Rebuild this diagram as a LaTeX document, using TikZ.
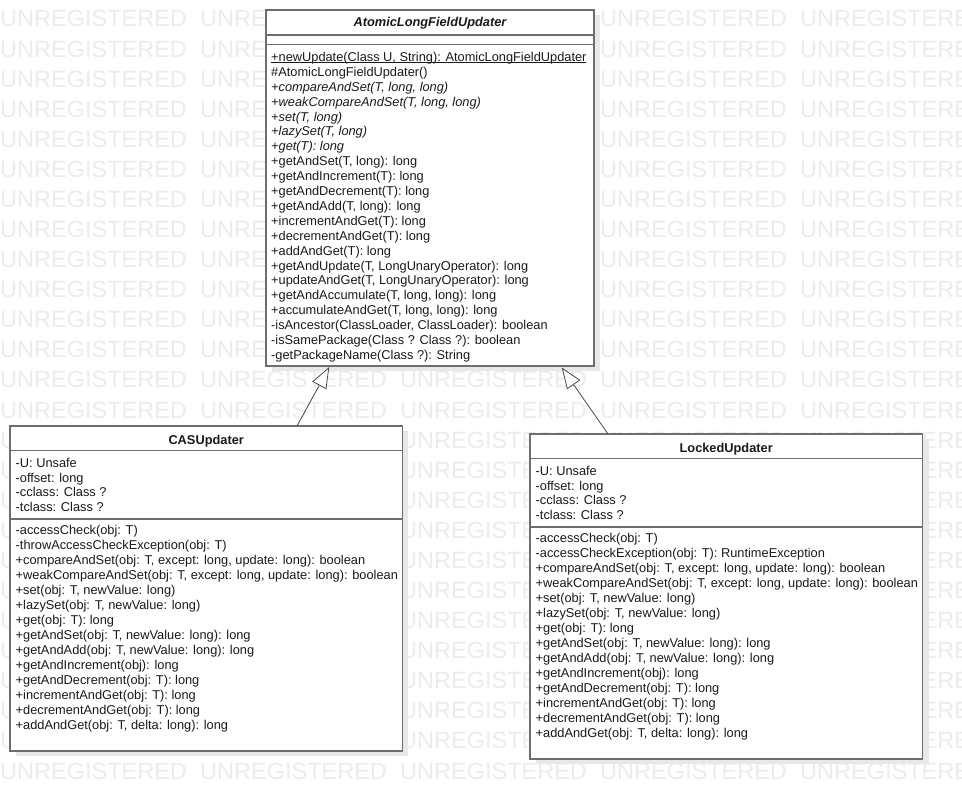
\documentclass[tikz,border=0pt]{standalone}
\usepackage{fontspec}
\setmainfont{Liberation Sans}
\usetikzlibrary{arrows.meta,calc}
\definecolor{wm}{HTML}{ECECEC}
\definecolor{shadowc}{HTML}{E8E8E8}
\definecolor{border}{HTML}{6E6E6E}
\definecolor{linec}{HTML}{4A4A4A}
\definecolor{txt}{HTML}{1A1A1A}
\newcommand\umlul[1]{\setbox0\hbox{#1}\rlap{\rule[-1.3pt]{\wd0}{0.8pt}}\box0}
\begin{document}
\begin{tikzpicture}[x=1pt,y=-1pt,
  classbox/.style={draw=border, line width=1.4pt, fill=white, inner sep=0pt, outer sep=0pt, rectangle, anchor=north west},
  sepline/.style={draw=border, line width=1.4pt},
  member/.style={anchor=base west, inner sep=0pt, text=txt, font=\fontsize{12.8}{15}\selectfont},
  ctitle/.style={anchor=base, inner sep=0pt, text=txt, font=\fontsize{12.8}{15}\selectfont\bfseries},
  wmtext/.style={anchor=base west, inner sep=0pt, text=wm, font=\fontsize{23.5}{24}\selectfont},
  gen/.style={draw=linec, line width=0.8pt, -{Triangle[length=21pt, width=16pt, fill=white]}}]
\useasboundingbox (0,0) rectangle (962,799);
\fill[white] (0,0) rectangle (962,799);
% watermark
\begin{scope}
\clip (0,0) rectangle (962,799);
\foreach \r in {0,...,25}{
  \foreach \c in {0,...,4}{
    \node[wmtext] (wm-\r-\c) at (200*\c, 27+30.08*\r) {UNREGISTERED};
  }
}
\end{scope}
% shadows
\fill[shadowc] (272,15) rectangle (600,371);
\fill[shadowc] (16,431) rectangle (408,756);
\fill[shadowc] (536,439) rectangle (928.5,764);
% boxes
\node[classbox, minimum width=328pt, minimum height=356pt] (atomic) at (266,10) {};
\node[classbox, minimum width=392.3pt, minimum height=325pt] (cas) at (10,426) {};
\node[classbox, minimum width=392.5pt, minimum height=325pt] (locked) at (530,434) {};
% compartments
\draw[sepline] (266,35) -- (594,35);
\draw[sepline] (266,44.5) -- (594,44.5);
\draw[sepline] (10,450.5) -- (402.3,450.5);
\draw[sepline] (10,519) -- (402.3,519);
\draw[sepline] (530,458.5) -- (922.5,458.5);
\draw[sepline] (530,527) -- (922.5,527);
% titles
\node[ctitle, font=\fontsize{12.8}{15}\selectfont\bfseries\itshape] (atitle) at (430,26.5) {AtomicLongFieldUpdater};
\node[ctitle] (ctitle) at (206.2,444.5) {CASUpdater};
\node[ctitle] (ltitle) at (726.2,452.5) {LockedUpdater};
% atomic operations
\foreach \t [count=\i from 0] in {
  {\umlul{+newUpdate(Class U, String): AtomicLongFieldUpdater}},
  {\#AtomicLongFieldUpdater()},
  {{\itshape +compareAndSet(T, long, long)}},
  {{\itshape +weakCompareAndSet(T, long, long)}},
  {{\itshape +set(T, long)}},
  {{\itshape +lazySet(T, long)}},
  {{\itshape +get(T): long}},
  {+getAndSet(T, long): long},
  {+getAndIncrement(T): long},
  {+getAndDecrement(T): long},
  {+getAndAdd(T, long): long},
  {+incrementAndGet(T): long},
  {+decrementAndGet(T): long},
  {+addAndGet(T): long},
  {+getAndUpdate(T, LongUnaryOperator): long},
  {+updateAndGet(T, LongUnaryOperator): long},
  {+getAndAccumulate(T, long, long): long},
  {+accumulateAndGet(T, long, long): long},
  {-isAncestor(ClassLoader, ClassLoader): boolean},
  {-isSamePackage(Class ? Class ?): boolean},
  {-getPackageName(Class ?): String}}{
  \node[member] (am\i) at (271,61.5+14.9*\i) {\t};
}
% attributes
\foreach \t [count=\i from 0] in {{-U: Unsafe},{-offset: long},{-cclass: Class ?},{-tclass: Class ?}}{
  \node[member] (ca\i) at (15.5,467.2+14.9*\i) {\t};
  \node[member] (la\i) at (535.5,475.2+14.9*\i) {\t};
}
% CAS operations
\foreach \t [count=\i from 0] in {
  {-accessCheck(obj: T)},
  {-throwAccessCheckException(obj: T)},
  {+compareAndSet(obj: T, except: long, update: long): boolean},
  {+weakCompareAndSet(obj: T, except: long, update: long): boolean},
  {+set(obj: T, newValue: long)},
  {+lazySet(obj: T, newValue: long)},
  {+get(obj: T): long},
  {+getAndSet(obj: T, newValue: long): long},
  {+getAndAdd(obj: T, newValue: long): long},
  {+getAndIncrement(obj): long},
  {+getAndDecrement(obj: T): long},
  {+incrementAndGet(obj: T): long},
  {+decrementAndGet(obj: T): long},
  {+addAndGet(obj: T, delta: long): long}}{
  \node[member] (co\i) at (15.5,534.5+15*\i) {\t};
}
% Locked operations
\foreach \t [count=\i from 0] in {
  {-accessCheck(obj: T)},
  {-accessCheckException(obj: T): RuntimeException},
  {+compareAndSet(obj: T, except: long, update: long): boolean},
  {+weakCompareAndSet(obj: T, except: long, update: long): boolean},
  {+set(obj: T, newValue: long)},
  {+lazySet(obj: T, newValue: long)},
  {+get(obj: T): long},
  {+getAndSet(obj: T, newValue: long): long},
  {+getAndAdd(obj: T, newValue: long): long},
  {+getAndIncrement(obj): long},
  {+getAndDecrement(obj: T): long},
  {+incrementAndGet(obj: T): long},
  {+decrementAndGet(obj: T): long},
  {+addAndGet(obj: T, delta: long): long}}{
  \node[member] (lo\i) at (535.5,542.5+15*\i) {\t};
}
% generalizations
\coordinate (casTop) at ($(cas.north west)+(287,0)$);
\coordinate (casTip) at ($(atomic.south west)+(63.3,1)$);
\coordinate (lockTop) at ($(locked.north west)+(78,0)$);
\coordinate (lockTip) at ($(atomic.south west)+(295.7,1.5)$);
\draw[gen] (casTop) -- (casTip);
\draw[gen] (lockTop) -- (lockTip);
\end{tikzpicture}
\end{document}
